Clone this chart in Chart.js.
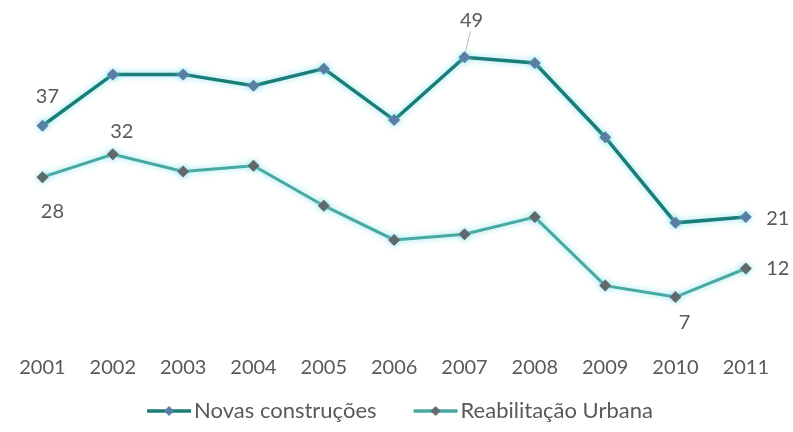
<!DOCTYPE html>
<html>
<head>
<meta charset="utf-8">
<script src="https://cdn.jsdelivr.net/npm/chart.js@4"></script>
<style>
  html, body { margin: 0; padding: 0; background: #fff; }
  #chart { display: block; }
</style>
</head>
<body>
<canvas id="chart" width="793" height="432"></canvas>
<script>
// ----- data -----
const YEARS = ["2001", "2002", "2003", "2004", "2005", "2006", "2007", "2008", "2009", "2010", "2011"];
const NOVAS = [37, 46, 46, 44, 47, 38, 49, 48, 35, 20, 21];
const REAB = [28, 32, 29, 30, 23, 17, 18, 21, 9, 7, 12];
const SERIES_NAMES = ["Novas construções", "Reabilitação Urbana"];

// ----- look -----
const FONT = "Lato, 'Open Sans', sans-serif";
const TEXT = "#595959";
const LINE_COLORS = ["#1b7d77", "#48a8a2"];
const MARK_COLORS = ["#5a7ea5", "#62696c"];

// which points get a value label, and where it sits relative to the marker
const VALUE_LABELS = [
  { ds: 0, i: 0, dx: 5, dy: -29 },
  { ds: 0, i: 6, dx: 7, dy: -37, leader: true },
  { ds: 0, i: 10, dx: 32, dy: 1 },
  { ds: 1, i: 0, dx: 10, dy: 34 },
  { ds: 1, i: 1, dx: 9, dy: -23 },
  { ds: 1, i: 9, dx: 9, dy: 26 },
  { ds: 1, i: 10, dx: 32, dy: 0 }
];

const LEGEND_BOX = 51;   // legend box width handed to Chart.js
const LEGEND_IMG = 73;   // swatch image, hangs 11px past the box on both sides
const SWATCH_LEN = 44;

const q = (id) => document.getElementById(id);

// legend swatch: short line with a diamond in the middle, pushed to the right
// end of the image so it sits next to the text
function legendSwatch(lineColor, markColor) {
  const c = document.createElement("canvas");
  c.width = LEGEND_IMG; c.height = 14;
  const ctx = c.getContext("2d");
  const x1 = LEGEND_IMG - 3, x0 = x1 - SWATCH_LEN, mid = (x0 + x1) / 2;
  ctx.strokeStyle = lineColor;
  ctx.lineWidth = 3.5;
  ctx.beginPath(); ctx.moveTo(x0, 7); ctx.lineTo(x1, 7); ctx.stroke();
  ctx.fillStyle = markColor;
  ctx.beginPath();
  ctx.moveTo(mid, 2); ctx.lineTo(mid + 5, 7); ctx.lineTo(mid, 12); ctx.lineTo(mid - 5, 7);
  ctx.closePath(); ctx.fill();
  return c;
}

// soft cyan halo behind the lines
const glowPlugin = {
  id: "glowPlugin",
  beforeDatasetDraw(chart) {
    const ctx = chart.ctx;
    ctx.save();
    ctx.shadowColor = "rgba(110,220,230,0.8)";
    ctx.shadowBlur = 6;
  },
  afterDatasetDraw(chart) {
    chart.ctx.restore();
  }
};

const valueLabelPlugin = {
  id: "valueLabelPlugin",
  afterDatasetsDraw(chart) {
    const ctx = chart.ctx;
    ctx.save();
    ctx.font = "20px " + FONT;
    ctx.fillStyle = TEXT;
    ctx.textAlign = "center";
    ctx.textBaseline = "middle";
    VALUE_LABELS.forEach(l => {
      const pt = chart.getDatasetMeta(l.ds).data[l.i];
      const val = chart.data.datasets[l.ds].data[l.i];
      const x = pt.x + l.dx, y = pt.y + l.dy;
      if (l.leader) {
        ctx.strokeStyle = "#bdbdbd";
        ctx.lineWidth = 1;
        ctx.beginPath();
        ctx.moveTo(x - 1, y + 11);
        ctx.lineTo(pt.x + 1, pt.y - 6);
        ctx.stroke();
      }
      ctx.fillText(String(val), x, y);
    });
    ctx.restore();
  }
};

const datasets = [NOVAS, REAB].map((vals, k) => ({
  label: SERIES_NAMES[k],
  data: vals,
  borderColor: LINE_COLORS[k],
  borderWidth: k === 0 ? 3.5 : 3,
  pointStyle: "rectRot",
  pointRadius: 6,
  pointBackgroundColor: MARK_COLORS[k],
  pointBorderColor: MARK_COLORS[k],
  pointBorderWidth: 0,
  tension: 0,
  fill: false
}));

new Chart(q("chart").getContext("2d"), {
  type: "line",
  data: { labels: YEARS, datasets },
  options: {
    responsive: false,
    animation: false,
    layout: { padding: { left: 4, right: 12, top: 23, bottom: 0 } },
    scales: {
      x: {
        offset: true,
        grid: { display: false, drawTicks: false },
        border: { display: false },
        ticks: { color: TEXT, font: { family: FONT, size: 20 }, padding: 19, maxRotation: 0 },
        afterFit: (axis) => { axis.height -= 21; }
      },
      y: {
        display: false,
        min: 0,
        max: 55
      }
    },
    plugins: {
      legend: {
        position: "bottom",
        labels: {
          color: TEXT,
          font: { family: FONT, size: 22 },
          usePointStyle: true,
          pointStyleWidth: LEGEND_BOX,
          padding: 22,
          generateLabels: (chart) => chart.data.datasets.map((ds, k) => ({
            text: ds.label,
            fontColor: TEXT,
            pointStyle: legendSwatch(LINE_COLORS[k], MARK_COLORS[k]),
            datasetIndex: k,
            hidden: false,
            lineWidth: 0
          }))
        }
      },
      tooltip: { enabled: false }
    }
  },
  plugins: [glowPlugin, valueLabelPlugin]
});
</script>
</body>
</html>
